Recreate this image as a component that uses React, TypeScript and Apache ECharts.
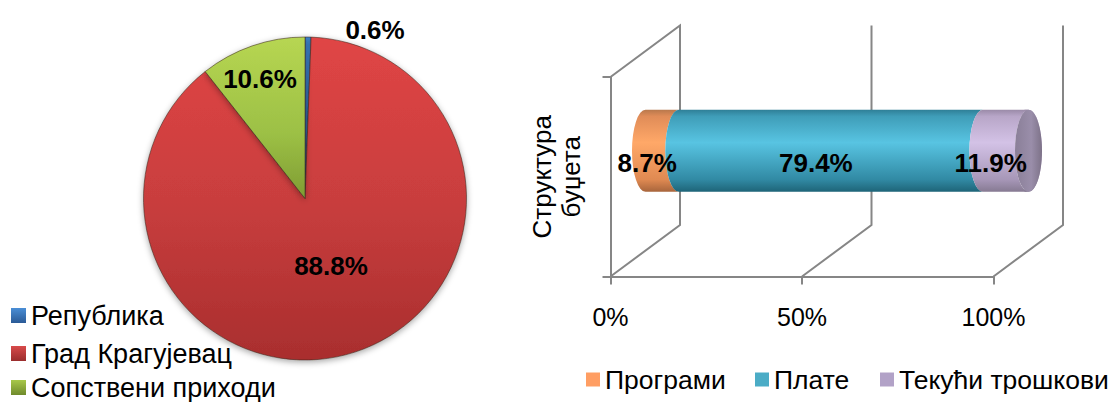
import React, { useEffect, useRef } from "react";
import * as echarts from "echarts";

const pieNames = ["Република", "Град Крагујевац", "Сопствени приходи"];
const pieValues = [0.6, 88.8, 10.6];
const barNames = ["Програми", "Плате", "Текући трошкови"];
const barValues = [8.7, 79.4, 11.9];
const barCategories = ["Структура\nбуџета"];
const gridTicks = [0, 50, 100];

const FONT = '"Liberation Sans", Arial, sans-serif';
const AXIS = "#868686";
const WALL_DX = 69.5;
const WALL_DY = -51.5;
const BAR_DX = 35;
const BAR_DY = -26;
const RX = 13.5;
const RY = 41;

const v = (stops: [number, string][]) => ({
  type: "linear", x: 0, y: 0, x2: 0, y2: 1,
  colorStops: stops.map(([offset, color]) => ({ offset, color })),
});

const pieFills = [
  v([[0, "#3f86cf"], [1, "#2a5f9f"]]),
  v([[0, "#e04545"], [0.5, "#c93e3e"], [1, "#a92e2e"]]),
  v([[0, "#b7d652"], [0.6, "#9cc045"], [1, "#7f9c33"]]),
];
const pieLegendFills = [
  v([[0, "#4a8ed6"], [1, "#2a5a96"]]),
  v([[0, "#d84a4a"], [1, "#9a2d2d"]]),
  v([[0, "#a8c84a"], [1, "#6f8a2c"]]),
];
const pieLegendTops = [302, 340, 374];
const barLegendLefts = [586, 755, 880];
const pieLabelAt = [
  { x: 375, y: 30 },
  { x: 331, y: 266 },
  { x: 260, y: 79 },
];
const barFlat = ["#ff9e63", "#4bacc6", "#b2a2c7"];
const barFills = [
  v([[0, "#b8784c"], [0.08, "#e08c58"], [0.4, "#ffa868"], [0.85, "#e08a52"], [1, "#a8653c"]]),
  v([[0, "#2f7f97"], [0.08, "#3f9db8"], [0.4, "#58c4e2"], [0.85, "#318aa4"], [1, "#1e6478"]]),
  v([[0, "#9a8aa8"], [0.08, "#b8a6c8"], [0.4, "#d3c2e6"], [0.85, "#a797b8"], [1, "#867a92"]]),
];

const starts = barValues.map((_, i) => barValues.slice(0, i).reduce((a, b) => a + b, 0));

function wallItem(params: any, api: any) {
  const t = api.value(0);
  const cs = params.coordSys;
  const x = api.coord([t, 0])[0];
  const top = cs.y;
  const bottom = cs.y + cs.height;
  const pts: number[][] = [
    [x, bottom],
    [x + WALL_DX, bottom + WALL_DY],
    [x + WALL_DX, top + WALL_DY],
  ];
  if (t === 0) pts.push([x, top]);
  return { type: "polyline", shape: { points: pts }, style: { stroke: AXIS, lineWidth: 2, fill: "none" }, silent: true };
}

function segmentItem(fill: any, last: boolean) {
  return (_: any, api: any) => {
    const x0 = api.coord([api.value(0), 0])[0] + BAR_DX;
    const p1 = api.coord([api.value(1), 0]);
    const x1 = p1[0] + BAR_DX;
    const cy = p1[1] + BAR_DY;
    const t = cy - RY;
    const b = cy + RY;
    const d = `M${x0} ${t}L${x1} ${t}A${RX} ${RY} 0 0 0 ${x1} ${b}L${x0} ${b}A${RX} ${RY} 0 0 1 ${x0} ${t}Z`;
    const children: any[] = [
      { type: "path", shape: { pathData: d, layout: "cover", x: x0 - RX, y: t, width: x1 - x0 + RX, height: 2 * RY }, style: { fill } },
    ];
    if (last) {
      children.unshift({
        type: "path",
        shape: { pathData: `M${x1} ${t}A${RX} ${RY} 0 0 1 ${x1} ${b}L${x1 - 4} ${b}L${x1 - 4} ${t}Z`, layout: "cover", x: x1 - 4, y: t, width: RX + 4, height: 2 * RY },
        style: { fill },
      });
      children.push({
        type: "ellipse",
        shape: { cx: x1, cy, rx: RX, ry: RY },
        style: {
          fill: { type: "linear", x: 0, y: 0, x2: 1, y2: 0, colorStops: [
            { offset: 0, color: "#8a7f98" }, { offset: 0.6, color: "#9a8eaa" }, { offset: 1, color: "#7d7288" },
          ] },
        },
      });
    }
    return { type: "group", children };
  };
}

function labelItem(_: any, api: any) {
  const mid = (api.value(0) + api.value(1)) / 2;
  const p = api.coord([mid, 0]);
  return {
    type: "text",
    x: p[0] + 20,
    y: p[1] - 14,
    style: {
      text: `${api.value(2).toFixed(1)}%`,
      font: `bold 26px ${FONT}`,
      fill: "#000",
      align: "center",
      verticalAlign: "middle",
    },
  };
}

export default function App() {
  const ref = useRef<HTMLDivElement>(null);
  useEffect(() => {
    const chart = echarts.init(ref.current!, undefined, { renderer: "svg" });
    chart.setOption({
      animation: false,
      backgroundColor: "#fff",
      textStyle: { fontFamily: FONT },
      legend: [
        ...pieNames.map((name, i) => ({
          data: [{ name, itemStyle: { color: pieLegendFills[i] } }],
          orient: "vertical",
          icon: "rect",
          left: 11,
          top: pieLegendTops[i],
          padding: 0,
          itemWidth: 15,
          itemHeight: 15,
          selectedMode: false,
          textStyle: { fontSize: 27, lineHeight: 24, color: "#000", fontFamily: FONT },
          itemStyle: { borderWidth: 0 },
        })),
        ...barNames.map((name, i) => ({
          data: [name],
          orient: "horizontal",
          icon: "rect",
          left: barLegendLefts[i],
          top: 366,
          padding: 0,
          itemWidth: 14,
          itemHeight: 14,
          selectedMode: false,
          textStyle: { fontSize: 26.5, color: "#000", fontFamily: FONT },
        })),
      ],
      grid: { left: 610.5, top: 77, width: 383, height: 199.5, containLabel: false },
      xAxis: {
        type: "value",
        min: 0,
        max: 100,
        interval: 50,
        splitLine: { show: false },
        axisLine: { show: true, lineStyle: { color: AXIS, width: 2 } },
        axisTick: { show: true, length: 8, lineStyle: { color: AXIS, width: 2 } },
        axisLabel: { formatter: (x: number) => `${x}%`, fontSize: 25, color: "#000", margin: 28, fontFamily: FONT },
      },
      yAxis: {
        type: "category",
        data: barCategories,
        axisLine: { show: true, lineStyle: { color: AXIS, width: 2 } },
        axisTick: { show: true, length: 8, lineStyle: { color: AXIS, width: 2 } },
        axisLabel: { rotate: 90, fontSize: 26, color: "#000", margin: 25, lineHeight: 29, fontFamily: FONT, align: "center" },
      },
      series: [
        {
          type: "pie",
          center: [305, 198.5],
          radius: [0, 161.5],
          startAngle: 90,
          clockwise: true,
          data: pieNames.map((name, i) => ({ name, value: pieValues[i], itemStyle: { color: pieFills[i] } })),
          itemStyle: { borderColor: "rgba(60,40,30,0.55)", borderWidth: 1, shadowBlur: 6, shadowColor: "rgba(0,0,0,0.35)", shadowOffsetY: 2 },
          label: { show: true, position: "inside", formatter: (p: any) => `${p.value.toFixed(1)}%`, fontSize: 26, fontWeight: "bold", color: "#000", fontFamily: FONT },
          labelLine: { show: false },
          labelLayout: (p: any) => ({ x: pieLabelAt[p.dataIndex].x, y: pieLabelAt[p.dataIndex].y, align: "center", verticalAlign: "middle" }),
          emphasis: { disabled: true },
        },
        { type: "custom", name: "walls", coordinateSystem: "cartesian2d", data: gridTicks.map((t) => [t]), renderItem: wallItem, encode: { x: 0 }, silent: true, z: 1 },
        ...barNames.map((name, i) => ({
          type: "custom",
          name,
          coordinateSystem: "cartesian2d",
          itemStyle: { color: barFlat[i] },
          data: [[starts[i], starts[i] + barValues[i]]],
          encode: { x: [0, 1] },
          renderItem: segmentItem(barFills[i], i === barNames.length - 1),
          silent: true,
          z: 2,
        })),
        {
          type: "custom",
          name: "labels",
          coordinateSystem: "cartesian2d",
          data: barValues.map((val, i) => [starts[i], starts[i] + val, val]),
          encode: { x: [0, 1] },
          renderItem: labelItem,
          silent: true,
          z: 5,
        },
      ],
    });
    return () => chart.dispose();
  }, []);
  return <div ref={ref} style={{ position: "fixed", left: 0, top: 0, width: 1111, height: 402 }} />;
}
